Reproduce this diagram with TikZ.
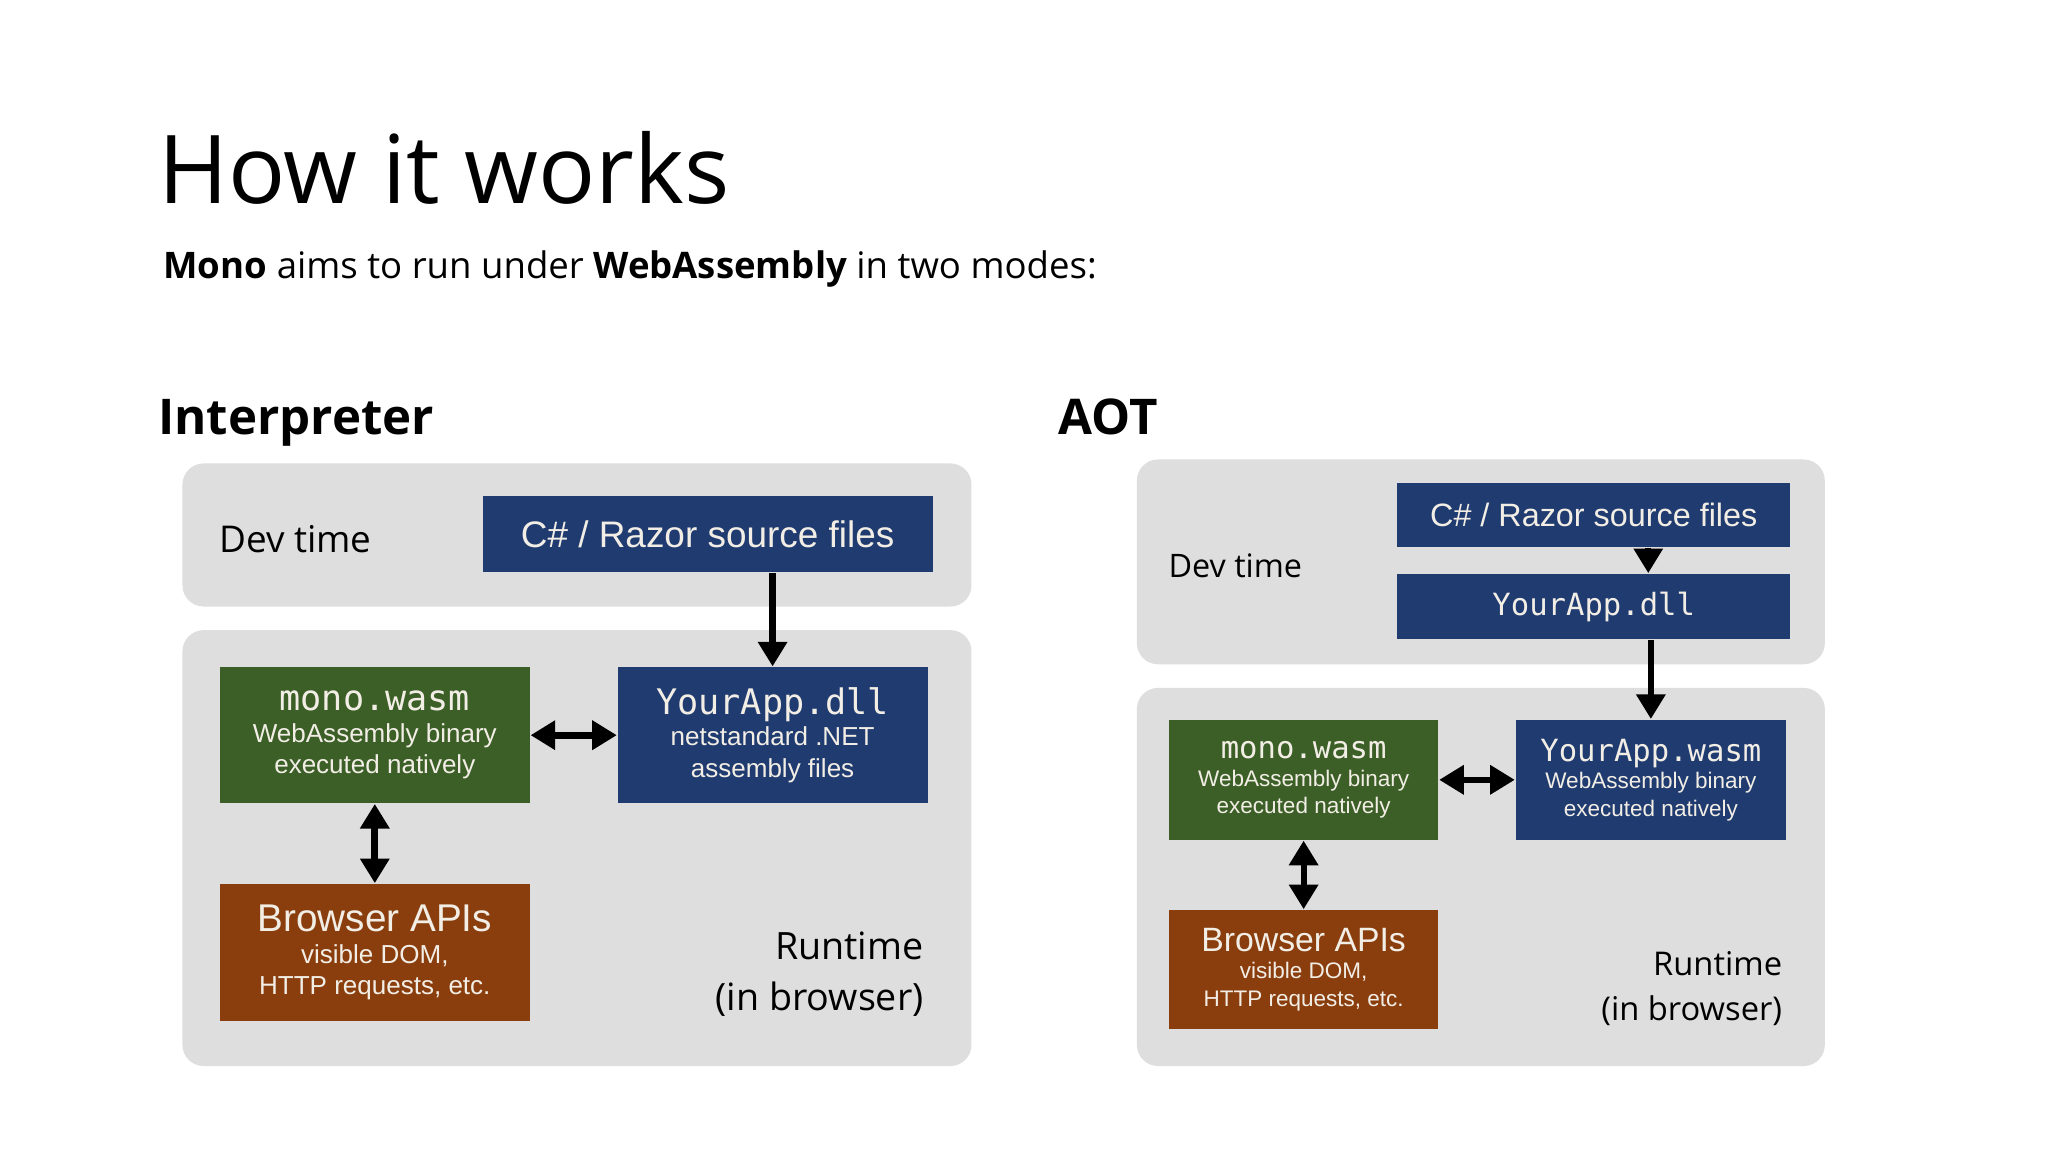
\documentclass[tikz,border=0pt]{standalone}
\usepackage{fontspec}
\setmainfont{Open Sans}
\newfontfamily\boxf{Liberation Sans}
\newfontfamily\monof{DejaVu Sans Mono}
\usetikzlibrary{arrows.meta}
\definecolor{panel}{HTML}{DEDEDF}
\definecolor{navy}{HTML}{1F3B6F}
\definecolor{grn}{HTML}{3B5F26}
\definecolor{brn}{HTML}{8A3E0D}
\definecolor{boxtxt}{HTML}{F2EEE6}
\begin{document}
\begin{tikzpicture}[x=0.01313cm,y=-0.01313cm,
  panel/.style={fill=panel,rounded corners=6pt},
  box/.style={draw=none,inner sep=0pt,align=center,text=boxtxt,font=\boxf},
  arr/.style={line width=2pt,-{Triangle[length=7pt,width=8pt]}},
  darr/.style={line width=2pt,{Triangle[length=7pt,width=8pt]}-{Triangle[length=7pt,width=8pt]}},
  lab/.style={inner sep=0pt,text=black}]
\useasboundingbox (0,0) rectangle (1560,877.7);
\fill[white] (0,0) rectangle (1560,877.7);
\node[lab,anchor=base west,font=\fontsize{27}{30}\selectfont] (title) at (120,155) {How it works};
\node[lab,anchor=base west,font=\fontsize{10.4}{12}\selectfont] (sub) at (124,212) {\textbf{Mono} aims to run under \textbf{WebAssembly} in two modes:};
\node[lab,anchor=base west,font=\bfseries\fontsize{14}{16}\selectfont] (interp) at (120,331) {Interpreter};
\node[lab,anchor=base west,font=\bfseries\fontsize{14}{16}\selectfont] (aot) at (806,331) {AOT};
% left
\fill[panel] (139,353) rectangle (740,462);
\fill[panel] (139,480) rectangle (740,812);
\node[lab,font=\fontsize{10.5}{12}\selectfont] (dev1) at (225,411) {Dev time};
\node[lab,anchor=east,align=right,font=\fontsize{10.7}{14.5}\selectfont] (rt1) at (704,742) {Runtime\\(in browser)};
\node[box,fill=navy,minimum width=128pt,minimum height=21.6pt,font=\boxf\fontsize{10.5}{12}\selectfont] (cs1) at (539,407) {C\# / Razor source files};
\node[box,fill=grn,minimum width=88.2pt,minimum height=38.7pt,font=\boxf\fontsize{7.4}{9}\selectfont] (mono1) at (285.5,560) {{\monof\fontsize{10}{12}\selectfont mono.wasm}\\WebAssembly binary\\executed natively};
\node[box,fill=navy,minimum width=88.2pt,minimum height=38.7pt,font=\boxf\fontsize{7.4}{9}\selectfont] (app1) at (588.5,560) {{\monof\fontsize{10}{12}\selectfont YourApp.dll}\\netstandard .NET\\assembly files};
\node[box,fill=brn,minimum width=88.2pt,minimum height=39pt,font=\boxf\fontsize{7.4}{9}\selectfont] (br1) at (285.5,725.5) {{\fontsize{11}{13}\selectfont Browser APIs}\\visible DOM,\\HTTP requests, etc.};
\draw[arr] (cs1.south -| app1) -- (app1.north);
\draw[darr] (mono1.east) -- (app1.west);
\draw[darr] (mono1.south) -- (br1.north);
% right
\fill[panel] (866,350) rectangle (1390,506);
\fill[panel] (866,524) rectangle (1390,812);
\node[lab,font=\fontsize{9.2}{11}\selectfont] (dev2) at (941,431) {Dev time};
\node[lab,anchor=east,align=right,font=\fontsize{9.3}{12.6}\selectfont] (rt2) at (1358,753) {Runtime\\(in browser)};
\node[box,fill=navy,minimum width=111.7pt,minimum height=18.2pt,font=\boxf\fontsize{9.2}{11}\selectfont] (cs2) at (1214,392.5) {C\# / Razor source files};
\node[box,fill=navy,minimum width=111.7pt,minimum height=18.6pt,font=\monof\fontsize{8.7}{11}\selectfont] (dll2) at (1214,462) {YourApp.dll};
\node[box,fill=grn,minimum width=76.7pt,minimum height=34.2pt,font=\boxf\fontsize{6.4}{7.8}\selectfont] (mono2) at (993,594) {{\monof\fontsize{8.7}{10.5}\selectfont mono.wasm}\\WebAssembly binary\\executed natively};
\node[box,fill=navy,minimum width=77pt,minimum height=34.2pt,font=\boxf\fontsize{6.4}{7.8}\selectfont] (wasm2) at (1257.5,594) {{\monof\fontsize{8.7}{10.5}\selectfont YourApp.wasm}\\WebAssembly binary\\executed natively};
\node[box,fill=brn,minimum width=76.7pt,minimum height=33.9pt,font=\boxf\fontsize{6.4}{7.8}\selectfont] (br2) at (993,738.5) {{\fontsize{9.6}{11.5}\selectfont Browser APIs}\\visible DOM,\\HTTP requests, etc.};
\draw[arr,line width=1.7pt] ([xshift=15.5pt]cs2.south) -- ([xshift=15.5pt]dll2.north);
\draw[arr,line width=1.7pt] (dll2.south -| wasm2) -- (wasm2.north);
\draw[darr,line width=1.7pt] (mono2.east) -- (wasm2.west);
\draw[darr,line width=1.7pt] (mono2.south) -- (br2.north);
\end{tikzpicture}
\end{document}
